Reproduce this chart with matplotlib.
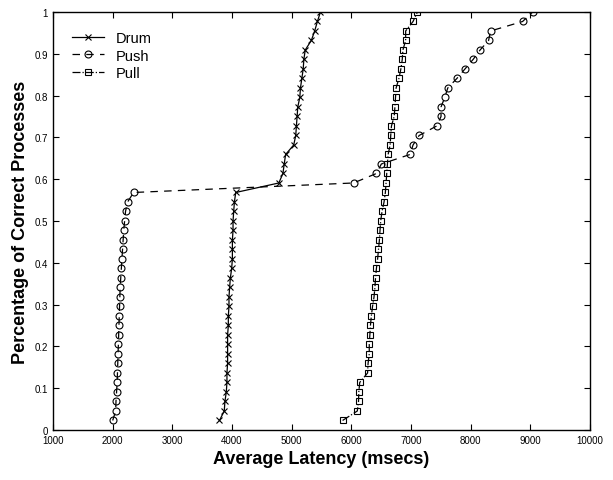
import numpy as np
import matplotlib
matplotlib.use('Agg')
import matplotlib.pyplot as plt

plt.rcParams['font.family'] = ['Liberation Sans', 'DejaVu Sans']

n_proc = 44
frac = [k / n_proc for k in range(1, n_proc + 1)]

drum = [3790, 3870, 3881, 3904, 3915, 3915, 3926, 3926, 3926, 3926,
        3938, 3938, 3949, 3949, 3960, 3972, 3994, 4006, 4006, 4006,
        4017, 4017, 4028, 4040, 4062, 4785, 4853, 4875, 4898, 5034,
        5068, 5079, 5091, 5102, 5136, 5147, 5170, 5193, 5204, 5227,
        5329, 5385, 5431, 5482]

push = [2000, 2050, 2055, 2065, 2075, 2080, 2085, 2090, 2095, 2100,
        2105, 2110, 2115, 2120, 2125, 2135, 2145, 2155, 2165, 2175,
        2185, 2200, 2215, 2250, 2350, 6037, 6420, 6503, 6983, 7034,
        7136, 7430, 7503, 7503, 7565, 7616, 7768, 7904, 8040, 8158,
        8300, 8333, 8870, 9040]

pull = [5853, 6100, 6120, 6125, 6140, 6272, 6280, 6300, 6300, 6310,
        6320, 6335, 6355, 6380, 6395, 6405, 6420, 6440, 6455, 6470,
        6480, 6492, 6514, 6548, 6570, 6582, 6593, 6605, 6616, 6650,
        6660, 6672, 6718, 6730, 6740, 6750, 6797, 6830, 6853, 6864,
        6910, 6910, 7034, 7107]

fig = plt.figure(figsize=(6.13, 4.81), dpi=100)
ax = fig.add_axes([0.0865, 0.104, 0.876, 0.869])

ax.plot(drum, frac, color='black', linestyle='-', linewidth=0.9,
        marker='x', markersize=4, markeredgewidth=0.8, label='Drum')
ax.plot(push, frac, color='black', linestyle='--', linewidth=0.9,
        dashes=(6, 5), marker='o', markersize=5, markerfacecolor='none',
        markeredgewidth=0.8, label='Push')
ax.plot(pull, frac, color='black', linestyle='-.', linewidth=0.9,
        marker='s', markersize=5, markerfacecolor='none',
        markeredgewidth=0.8, label='Pull')

ax.set_xlim(1000, 10000)
ax.set_ylim(0, 1)
ax.set_xticks(np.arange(1000, 10001, 1000))
ax.set_yticks(np.arange(0, 1.01, 0.1))
ax.set_yticklabels(['0', '0.1', '0.2', '0.3', '0.4', '0.5', '0.6', '0.7',
                    '0.8', '0.9', '1'])
ax.tick_params(direction='in', top=True, right=True, labelsize=7,
               length=4, width=0.8)
for s in ax.spines.values():
    s.set_linewidth(1.0)

ax.set_xlabel('Average Latency (msecs)', fontsize=13, fontweight='bold')
ax.set_ylabel('Percentage of Correct Processes', fontsize=13,
              fontweight='bold')

ax.legend(loc='upper left', frameon=False, fontsize=10.5, handlelength=2.2,
          borderaxespad=0.9, labelspacing=0.25)

fig.savefig('out.png', dpi=100)
